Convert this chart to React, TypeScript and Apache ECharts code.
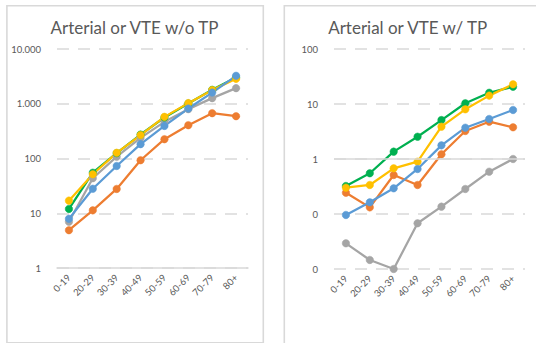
import React, { useEffect, useRef } from "react";
import * as echarts from "echarts";

// Age bands shared by both panels
const ageGroups = ["0-19", "20-29", "30-39", "40-49", "50-59", "60-69", "70-79", "80+"];

// Panel 1: arterial or VTE without TP
const blueNoTP = [7.9, 28, 73, 183, 394, 817, 1600, 3240];
const orangeNoTP = [4.9, 11.3, 27.8, 93, 225, 406, 673, 593];
const grayNoTP = [7.0, 43.6, 108, 238, 467, 797, 1266, 1928];
const yellowNoTP = [17, 51.6, 127, 268, 576, 1026, 1774, 2850];
const greenNoTP = [12, 55, 125, 274, 560, 1009, 1795, 3013];

// Panel 2: arterial or VTE with TP
const blueTP = [0.096, 0.163, 0.293, 0.658, 1.77, 3.71, 5.34, 7.78];
const orangeTP = [0.244, 0.132, 0.512, 0.337, 1.22, 3.23, 4.77, 3.77];
const grayTP = [0.0293, 0.0146, 0.01, 0.0678, 0.136, 0.285, 0.588, 1.0];
const yellowTP = [0.301, 0.337, 0.677, 0.894, 3.87, 8.0, 14.2, 22.8];
const greenTP = [0.323, 0.55, 1.36, 2.54, 5.1, 10.3, 16, 20.6];

const panelTitles = ["Arterial or VTE w/o TP", "Arterial or VTE w/ TP"];

const COLORS = {
  blue: "#5B9BD5",
  orange: "#ED7D31",
  gray: "#A5A5A5",
  yellow: "#FFC000",
  green: "#00B050",
};

const FONT = "Lato, 'Open Sans', sans-serif";
const TEXT = "#595959";
const GRID = "#D9D9D9";

function thousands(v: number): string {
  const n = Math.round(v);
  return String(n).replace(/\B(?=(\d{3})+(?!\d))/g, ".");
}

function lineSeries(name: string, data: number[], color: string, idx: number) {
  return {
    type: "line",
    name,
    data,
    xAxisIndex: idx,
    yAxisIndex: idx,
    symbol: "circle",
    symbolSize: 7.5,
    lineStyle: { color, width: 2.25 },
    itemStyle: { color, borderColor: color, borderWidth: 0.5 },
    emphasis: { disabled: true },
    z: 3,
  };
}

export default function App() {
  const ref = useRef<HTMLDivElement>(null);

  useEffect(() => {
    if (!ref.current) return;
    const chart = echarts.init(ref.current, undefined, { renderer: "svg" });

    const xAxisBase = (gridIndex: number, showLine: boolean) => ({
      type: "category",
      gridIndex,
      data: ageGroups,
      boundaryGap: true,
      axisTick: { show: false },
      axisLine: { show: showLine, lineStyle: { color: GRID, width: 1.5 } },
      axisLabel: {
        rotate: 45,
        margin: 8,
        color: TEXT,
        fontFamily: FONT,
        fontSize: 9.5,
        interval: 0,
      },
      splitLine: { show: false },
    });

    const yAxisBase = (gridIndex: number, min: number, max: number, fmt: (v: number) => string) => ({
      type: "log",
      logBase: 10,
      gridIndex,
      min,
      max,
      axisLine: { show: false },
      axisTick: { show: false },
      axisLabel: { color: TEXT, fontFamily: FONT, fontSize: 9.5, margin: 16, formatter: fmt },
      splitLine: { show: true, lineStyle: { color: GRID, width: 1.5, type: [12, 9] } },
    });

    chart.setOption({
      animation: false,
      backgroundColor: "#ffffff",
      textStyle: { fontFamily: FONT },
      graphic: [
        {
          type: "rect",
          shape: { x: 6.9, y: 5.8, width: 256.4, height: 337 },
          style: { fill: "none", stroke: GRID, lineWidth: 1.6 },
          silent: true,
        },
        {
          type: "rect",
          shape: { x: 284.3, y: 5.8, width: 300, height: 400 },
          style: { fill: "none", stroke: GRID, lineWidth: 1.6 },
          silent: true,
        },
        {
          type: "text",
          x: 134.5,
          y: 27.5,
          style: {
            text: panelTitles[0],
            fill: TEXT,
            font: `17px ${FONT}`,
            textAlign: "center",
            textVerticalAlign: "middle",
          },
          silent: true,
        },
        {
          type: "text",
          x: 407.7,
          y: 27.5,
          style: {
            text: panelTitles[1],
            fill: TEXT,
            font: `17px ${FONT}`,
            textAlign: "center",
            textVerticalAlign: "middle",
          },
          silent: true,
        },
      ],
      grid: [
        { left: 57, top: 49, width: 191, height: 219 },
        { left: 334, top: 49, width: 191, height: 220 },
      ],
      xAxis: [xAxisBase(0, true), xAxisBase(1, false)],
      yAxis: [
        yAxisBase(0, 1, 10000, thousands),
        yAxisBase(1, 0.01, 100, (v: number) => String(Math.round(v))),
      ],
      series: [
        // horizontal axis of the second panel crosses at 1
        {
          type: "line",
          name: "axis",
          xAxisIndex: 1,
          yAxisIndex: 1,
          data: [],
          z: 1,
          silent: true,
          markLine: {
            silent: true,
            symbol: "none",
            label: { show: false },
            lineStyle: { color: GRID, width: 1.5, type: "solid" },
            data: [{ yAxis: 1 }],
          },
        },
        lineSeries("S3", grayNoTP, COLORS.gray, 0),
        lineSeries("S2", orangeNoTP, COLORS.orange, 0),
        lineSeries("S5", greenNoTP, COLORS.green, 0),
        lineSeries("S4", yellowNoTP, COLORS.yellow, 0),
        lineSeries("S1", blueNoTP, COLORS.blue, 0),
        lineSeries("S3", grayTP, COLORS.gray, 1),
        lineSeries("S2", orangeTP, COLORS.orange, 1),
        lineSeries("S5", greenTP, COLORS.green, 1),
        lineSeries("S4", yellowTP, COLORS.yellow, 1),
        lineSeries("S1", blueTP, COLORS.blue, 1),
      ],
    });

    return () => chart.dispose();
  }, []);

  return (
    <div
      ref={ref}
      style={{ position: "fixed", left: 0, top: 0, width: 536, height: 343, background: "#fff" }}
    />
  );
}
